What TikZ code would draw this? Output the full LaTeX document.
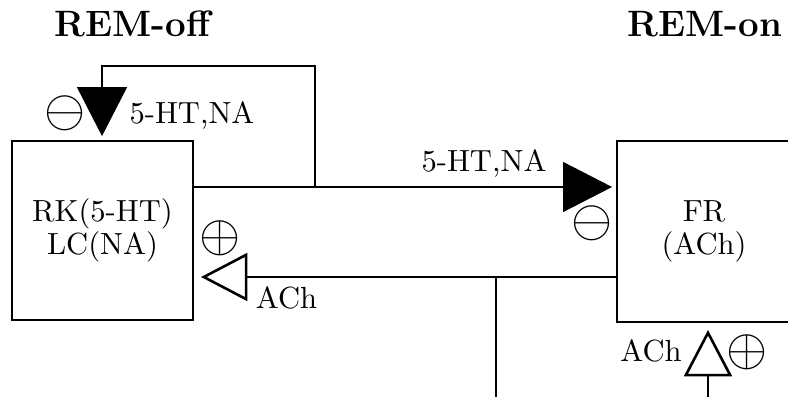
\documentclass[tikz,border=0pt]{standalone}
\usetikzlibrary{arrows.meta}
\tikzset{
  every node/.style={font=\fontsize{10}{11}\selectfont},
  wire/.style={line width=0.85pt, line cap=butt, line join=miter},
  cell/.style={draw, line width=0.85pt, rectangle, inner sep=0pt, outer sep=0pt,
    align=center, font=\fontsize{10}{11}\selectfont},
  inhib/.style={wire, -{Triangle[length=16pt, width=16.2pt]}, shorten >=1.6pt},
  excit/.style={wire, -{Triangle[open, length=15.2pt, width=15.7pt, fill=white]}, shorten >=2.6pt},
  title/.style={font=\fontsize{12}{14}\selectfont\bfseries, anchor=base},
  tag/.style={anchor=base, inner sep=0pt},
  sign/.style={font=\fontsize{17}{20}\selectfont, inner sep=0pt},
}
\begin{document}
\begin{tikzpicture}[x=0.327pt, y=-0.327pt]
  \useasboundingbox (0,0) rectangle (788,397);

  % headings
  \node[title] (off) at (132.5,37) {REM-off};
  \node[title] (on)  at (705,37) {REM-on};

  % the two neuron groups
  \node[cell, minimum width=59.2pt, minimum height=58.5pt] (rk) at (102.5,230.5)
    {RK(5-HT)\\LC(NA)};
  \node[cell, minimum width=56.9pt, minimum height=59.2pt] (fr) at (704,231.5)
    {FR\\(ACh)};

  % junction and loose ends
  \coordinate (upper) at (0,187);
  \coordinate (lower) at (0,277);
  \coordinate (j1) at (315,187);
  \coordinate (fbtop) at (102,66);
  \coordinate (j2) at (496,277);
  \coordinate (j2end) at (496,397);
  \coordinate (inend) at (708,397);

  % inhibitory projections
  \draw[wire] (rk.east |- upper) -- (j1);
  \draw[inhib] (j1) -- (fr.west |- upper);
  \draw[inhib] (j1) |- (fbtop) -- (rk.north -| fbtop);

  % excitatory projections
  \draw[excit] (fr.west |- lower) -- (rk.east |- lower);
  \draw[wire] (j2) -- (j2end);
  \draw[excit] (inend) -- (fr.south -| inend);

  % transmitter labels
  \node[tag] (t1) at (192,124) {5-HT,NA};
  \node[tag] (t2) at (484,172) {5-HT,NA};
  \node[tag] (t3) at (286.5,309) {ACh};
  \node[tag] (t4) at (651,362) {ACh};

  % signs
  \node[sign] (s1) at (65,113) {$\ominus$};
  \node[sign] (s2) at (592,223) {$\ominus$};
  \node[sign] (s3) at (220,238) {$\oplus$};
  \node[sign] (s4) at (747,352) {$\oplus$};
\end{tikzpicture}
\end{document}
